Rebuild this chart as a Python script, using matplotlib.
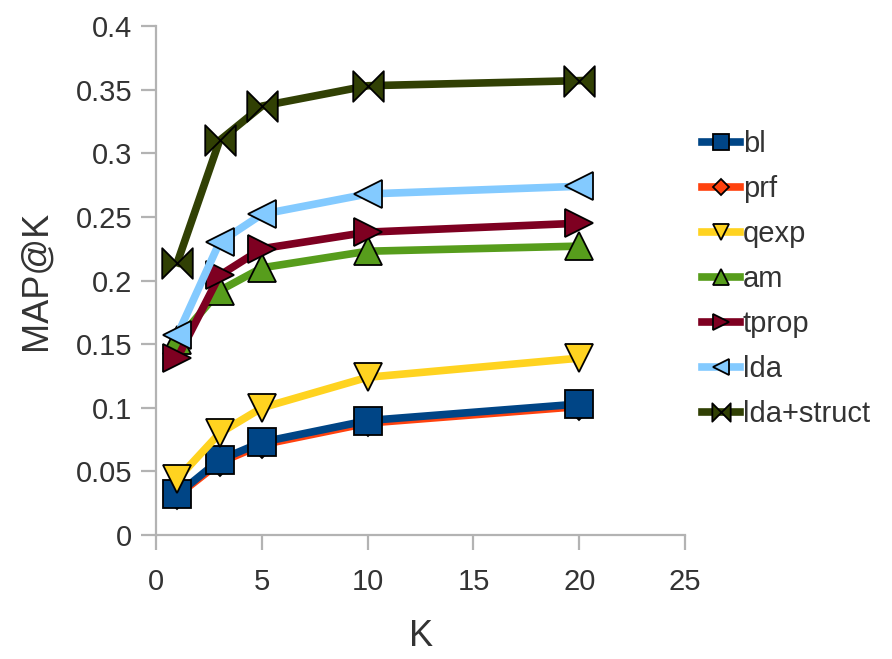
import matplotlib
matplotlib.use("Agg")
import matplotlib.pyplot as plt
from matplotlib.path import Path

plt.rcParams['font.family'] = ['Liberation Sans', 'DejaVu Sans']

K = [1, 3, 5, 10, 20]
series_names = ["bl", "prf", "qexp", "am", "tprop", "lda", "lda+struct"]
bl = [0.032, 0.059, 0.073, 0.090, 0.103]
prf = [0.031, 0.057, 0.071, 0.088, 0.101]
qexp = [0.044, 0.080, 0.100, 0.124, 0.139]
am = [0.153, 0.192, 0.210, 0.223, 0.227]
tprop = [0.139, 0.204, 0.225, 0.238, 0.245]
lda = [0.157, 0.230, 0.252, 0.268, 0.274]
lda_struct = [0.214, 0.310, 0.337, 0.353, 0.357]
values = [bl, prf, qexp, am, tprop, lda, lda_struct]

colors = ["#004586", "#ff420e", "#ffd320", "#579d1c", "#7e0021", "#83caff", "#314004"]
bowtie = Path([(-1, -1), (0, 0), (-1, 1), (-1, -1), (1, -1), (0, 0), (1, 1), (1, -1)],
              [Path.MOVETO, Path.LINETO, Path.LINETO, Path.CLOSEPOLY,
               Path.MOVETO, Path.LINETO, Path.LINETO, Path.CLOSEPOLY])
markers = ["s", "D", "v", "^", ">", "<", bowtie]
msizes = [20, 13, 20, 20, 20, 20, 22]
zorders = [3.5, 3.0, 3.6, 3.7, 3.8, 3.9, 4.0]

fig = plt.figure(figsize=(8.92, 6.59), dpi=100)
ax = fig.add_axes([0.175, 0.188, 0.593, 0.7727])

for name, vals, c, m, ms, z in zip(series_names, values, colors, markers, msizes, zorders):
    ax.plot(K, vals, color=c, lw=5.5, marker=m, markersize=ms,
            markerfacecolor=c, markeredgecolor="black", markeredgewidth=1.3,
            label=name, solid_joinstyle="round", zorder=z)

ax.set_xlim(0, 25)
ax.set_ylim(0, 0.4)
ax.set_xticks([0, 5, 10, 15, 20, 25])
ax.set_yticks([0, 0.05, 0.1, 0.15, 0.2, 0.25, 0.3, 0.35, 0.4])
ax.set_yticklabels(["0", "0.05", "0.1", "0.15", "0.2", "0.25", "0.3", "0.35", "0.4"])
for s in ["top", "right"]:
    ax.spines[s].set_visible(False)
for s in ["left", "bottom"]:
    ax.spines[s].set_color("#b3b3b3")
    ax.spines[s].set_linewidth(1.6)
ax.tick_params(colors="#b3b3b3", labelcolor="#333333", labelsize=21, length=11,
               width=1.6, pad=6)
ax.tick_params(axis="x", pad=13)
ax.set_xlabel("K", fontsize=26, color="#333333", labelpad=16)
ax.set_ylabel("MAP@K", fontsize=26, color="#333333", labelpad=16)

leg = ax.legend(loc="center left", bbox_to_anchor=(1.01, 0.503), frameon=False,
                fontsize=21, handlelength=1.3, handletextpad=0.1, labelspacing=0.58,
                markerscale=0.6, borderaxespad=0)
for t in leg.get_texts():
    t.set_color("#333333")

fig.savefig("out.png", dpi=100)
